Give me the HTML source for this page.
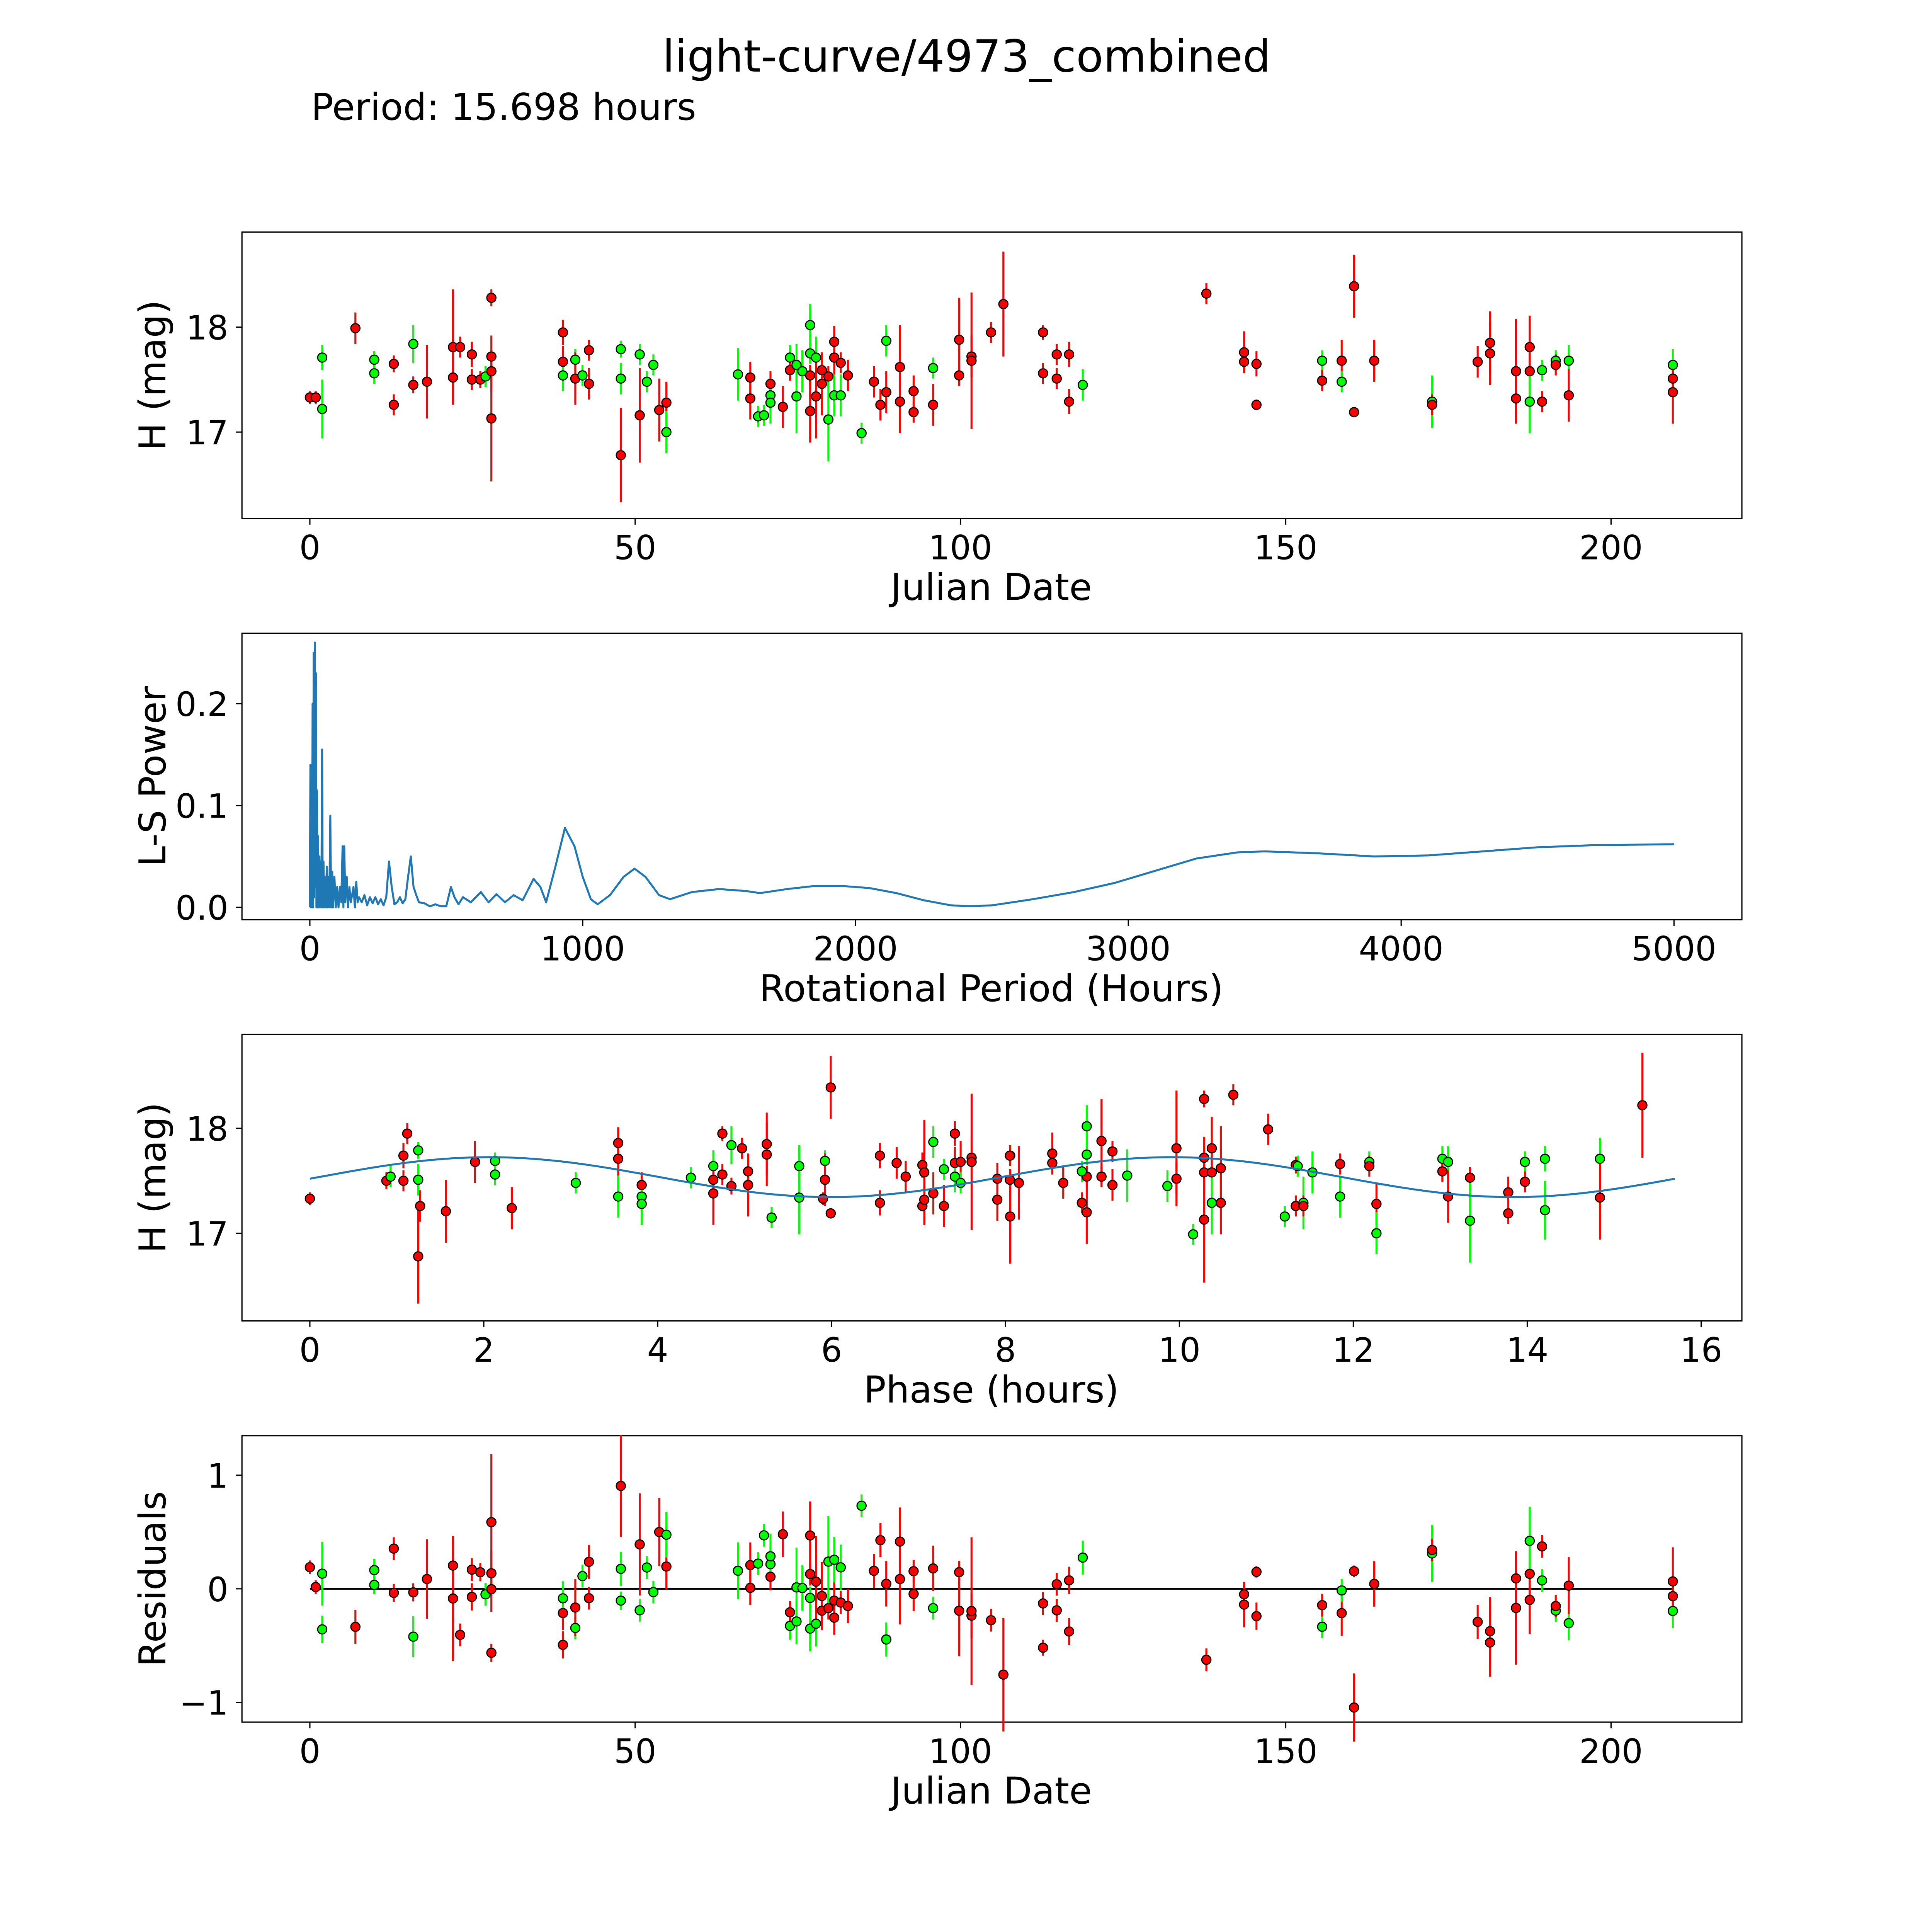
<!DOCTYPE html>
<html><head><meta charset="utf-8">
<style>
html,body{margin:0;padding:0;background:#fff;width:100%;height:100%;overflow:hidden;}
svg{display:block;width:100vw;height:100vh;font-family:"DejaVu Sans","Liberation Sans",sans-serif;}
</style></head>
<body>
<svg id="fig" xmlns="http://www.w3.org/2000/svg" viewBox="0 0 1565 1565" preserveAspectRatio="none">
<rect x="0" y="0" width="1565" height="1565" fill="#fff"/>
<text x="783" y="58" font-size="36" text-anchor="middle">light-curve/4973_combined</text>
<text x="252" y="97" font-size="30">Period: 15.698 hours</text>
<g id="g"></g>
</svg>
<script>
// ---- data ----
const dates = [0,0.9,1.9,1.9,7,9.9,9.9,12.9,12.9,15.9,15.9,18,22,22,23.1,24.9,24.9,26.2,27,27.9,27.9,27.9,27.9,38.9,38.9,38.9,40.8,40.8,41.9,42.9,42.9,47.8,47.8,47.8,50.7,50.7,51.8,52.8,53.7,54.8,54.8,65.8,67.7,67.7,68.9,69.8,70.8,70.8,70.8,72.7,73.8,73.8,74.8,74.8,75.7,76.9,76.9,76.9,76.9,77.8,77.8,78.7,78.7,79.7,79.7,80.6,80.6,80.6,81.6,81.6,82.7,84.8,86.7,87.7,88.6,88.6,90.7,90.7,92.8,92.8,95.8,95.8,99.8,99.8,101.7,101.7,104.7,106.6,112.7,112.7,114.8,114.8,116.7,116.7,118.8,137.8,143.6,143.6,145.5,145.5,155.6,155.6,158.6,158.6,160.5,160.5,163.6,172.5,172.5,179.5,181.4,181.4,185.4,185.4,187.5,187.5,187.5,189.4,189.4,191.5,191.5,193.5,193.5,209.5,209.5,209.5];
const mags = [17.33,17.33,17.71,17.22,17.99,17.69,17.56,17.65,17.26,17.84,17.45,17.48,17.81,17.52,17.81,17.74,17.5,17.5,17.53,18.28,17.72,17.58,17.13,17.95,17.67,17.54,17.69,17.51,17.54,17.78,17.46,17.79,17.51,16.78,17.74,17.16,17.48,17.64,17.21,17.28,17.0,17.55,17.52,17.32,17.15,17.16,17.46,17.35,17.28,17.24,17.71,17.59,17.64,17.34,17.58,18.02,17.75,17.54,17.2,17.71,17.34,17.59,17.46,17.53,17.12,17.86,17.71,17.35,17.66,17.35,17.54,16.99,17.48,17.26,17.87,17.38,17.62,17.29,17.39,17.19,17.61,17.26,17.88,17.54,17.72,17.68,17.95,18.22,17.95,17.56,17.74,17.51,17.74,17.29,17.45,18.32,17.76,17.67,17.65,17.26,17.68,17.49,17.68,17.48,18.39,17.19,17.68,17.29,17.26,17.67,17.85,17.75,17.58,17.32,17.81,17.58,17.29,17.59,17.29,17.68,17.64,17.68,17.35,17.64,17.51,17.38];
const errs = [0.06,0.06,0.12,0.28,0.15,0.08,0.1,0.08,0.1,0.18,0.08,0.35,0.55,0.15,0.1,0.12,0.1,0.08,0.1,0.08,0.2,0.2,0.6,0.12,0.15,0.15,0.1,0.25,0.1,0.1,0.15,0.08,0.15,0.45,0.1,0.45,0.1,0.1,0.3,0.2,0.2,0.25,0.15,0.2,0.1,0.1,0.12,0.15,0.2,0.2,0.12,0.1,0.2,0.35,0.2,0.2,0.1,0.1,0.3,0.2,0.4,0.15,0.3,0.1,0.4,0.15,0.3,0.2,0.1,0.2,0.15,0.1,0.15,0.15,0.15,0.2,0.4,0.3,0.15,0.1,0.1,0.2,0.4,0.1,0.2,0.65,0.1,0.5,0.07,0.1,0.1,0.1,0.12,0.12,0.15,0.1,0.2,0.1,0.12,0.05,0.1,0.1,0.2,0.1,0.3,0.05,0.2,0.25,0.1,0.15,0.3,0.3,0.5,0.2,0.3,0.25,0.3,0.1,0.1,0.1,0.1,0.15,0.25,0.15,0.15,0.3];
const colors = ("rrggrggrrg"+"rrrrrrrrgr"+"rrrrrggrgr"+"rggrgrggrr"+"ggrrggrggr"+"grgggggrrg"+"rrrrgrrgrg"+"rgrrgrrrrr"+"grrrrrrrrr"+"rrrrgrrrrr"+"grrgrrrgrr"+"rrrrrrggrg"+"rgrgrr").split("");
const periodHours = 15.698;
const modelParams = [17.535, 0.19, 0.1]; // mean, amplitude, phase offset (double-peaked)
const lsPeriods = [0,2,4,6,8,10,12,14,16,18,20,22,24,26,28,30,32,35,37,40,42,45,47,50,53,56,59,62,65,68,71,75,78,82,85,90,95,100,105,110,115,120,123,126,130,135,140,145,150,160,165,170,175,180,190,200,210,220,230,240,250,260,270,280,290,300,310,320,330,340,350,360,370,380,390,400,420,440,460,480,500,517,530,545,561,590,627,655,684,715,747,780,820,845,866,900,935,970,1000,1030,1055,1100,1150,1190,1230,1280,1320,1400,1500,1600,1650,1750,1850,1950,2050,2150,2250,2350,2420,2500,2650,2800,2950,3100,3250,3400,3500,3700,3900,4100,4300,4500,4700,5000];
const lsPower = [0,0.14,0,0.14,0,0.2,0,0.25,0.01,0.26,0.02,0.23,0,0.115,0,0.07,0,0.05,0,0.045,0,0.155,0,0.045,0,0.03,0,0.04,0,0.03,0,0.09,0,0.035,0,0.03,0,0.02,0,0.02,0.005,0.06,0,0.06,0.005,0.03,0,0.02,0.005,0.02,0,0.025,0.005,0.01,0.005,0.012,0.002,0.01,0.004,0.01,0.003,0.008,0.002,0.01,0.045,0.02,0.003,0.005,0.01,0.004,0.008,0.03,0.05,0.02,0.012,0.005,0.004,0.001,0.003,0.001,0.001,0.02,0.01,0.003,0.01,0.005,0.015,0.005,0.013,0.005,0.012,0.007,0.028,0.02,0.005,0.04,0.078,0.06,0.03,0.008,0.003,0.012,0.03,0.038,0.03,0.012,0.008,0.015,0.018,0.016,0.014,0.018,0.021,0.021,0.019,0.014,0.007,0.002,0.001,0.002,0.008,0.015,0.024,0.036,0.048,0.054,0.055,0.053,0.05,0.051,0.055,0.059,0.061,0.062];
const xTicksDate = [0,50,100,150,200];
const xTicksLS = [0,1000,2000,3000,4000,5000];
const xTicksPhase = [0,2,4,6,8,10,12,14,16];
const yTicksMag = [17,18];
const yTicksLS = [0,0.1,0.2];
const yTicksRes = [-1,0,1];

// ---- helpers ----
const NS="http://www.w3.org/2000/svg";
const G=document.getElementById('g');
function el(tag,attrs,parent){const e=document.createElementNS(NS,tag);for(const k in attrs)e.setAttribute(k,attrs[k]);(parent||G).appendChild(e);return e;}
function lin(d0,d1,p0,p1){return v=>p0+(v-d0)*(p1-p0)/(d1-d0);}
function model(p){return modelParams[0]+modelParams[1]*Math.sin(2*Math.PI*2*(p-modelParams[2])/periodHours);}
function phaseOf(d){return ((d*24)%periodHours+periodHours)%periodHours;}

function axes(name,top,xs,ys,xt,yt,xfmt,yfmt,xlabel,ylabel){
  const g=el('g',{});
  
  
  const f=el('rect',{x:196,y:top,width:1215,height:232,fill:'none',stroke:'#000','stroke-width':1},g);
  
  
  xt.forEach(t=>{const x=xs(t);
    el('line',{x1:x,x2:x,y1:top+232,y2:top+237,stroke:'#000','stroke-width':1},g);
    const tx=el('text',{x:x,y:top+265,'font-size':27,'text-anchor':'middle'},g);tx.textContent=xfmt(t);
    
    });
  yt.forEach(t=>{const y=ys(t);
    el('line',{x1:191,x2:196,y1:y,y2:y,stroke:'#000','stroke-width':1},g);
    const tx=el('text',{x:185,y:y+10,'font-size':27,'text-anchor':'end'},g);tx.textContent=yfmt(t);
    
    });
  const xl=el('text',{x:803,y:top+298,'font-size':30,'text-anchor':'middle'},g);xl.textContent=xlabel;
  
  
  const yl=el('text',{x:0,y:0,'font-size':30,'text-anchor':'middle',transform:`translate(134,${top+116}) rotate(-90)`},g);yl.textContent=ylabel;
  
  
  return g;
}
function pts(g,xv,yv,ev,xs,ys,sy,name){
  for(let i=0;i<xv.length;i++){
    const c=colors[i]==='g'?'#00ff00':'#ff0000';
    const x=xs(xv[i]),y=ys(yv[i]),e=Math.abs(sy*ev[i]);
    const l=el('line',{x1:x,x2:x,y1:y-e,y2:y+e,stroke:c,'stroke-width':1.6},g);
    
    
  }
  for(let i=0;i<xv.length;i++){
    const c=colors[i]==='g'?'#00ff00':'#ff0000';
    const m=el('circle',{cx:xs(xv[i]),cy:ys(yv[i]),r:3.7,fill:c,stroke:'#000','stroke-width':0.9},g);
    
    
  }
}
const intFmt=t=>String(t);
const minusFmt=t=>t<0?'\u2212'+Math.abs(t):String(t);

// Panel 1
const xD=lin(0,200,251,1305);
const yM1=lin(17,18,350,265);
const g1=axes('light-curve-panel',188,xD,yM1,xTicksDate,yTicksMag,intFmt,intFmt,'Julian Date','H (mag)');
pts(g1,dates,mags,errs,xD,yM1,85,'magnitude');

// Panel 2
const xL=lin(0,5000,251,1356);
const yL=lin(0,0.2,735,570);
const g2=axes('periodogram-panel',513,xL,yL,xTicksLS,yTicksLS,intFmt,t=>t.toFixed(1),'Rotational Period (Hours)','L-S Power');
const lp=el('path',{d:lsPeriods.map((p,i)=>(i?'L':'M')+xL(p).toFixed(2)+','+yL(lsPower[i]).toFixed(2)).join(''),fill:'none',stroke:'#1f77b4','stroke-width':1.6,'stroke-linejoin':'round'},g2);



// Panel 3
const xP=lin(0,16,251,1378);
const yM3=lin(17,18,999,914);
const g3=axes('phase-panel',838,xP,yM3,xTicksPhase,yTicksMag,intFmt,intFmt,'Phase (hours)','H (mag)');
const phases=dates.map(phaseOf);
pts(g3,phases,mags,errs,xP,yM3,85,'phased');
let md='';for(let k=0;k<=200;k++){const p=periodHours*k/200;md+=(k?'L':'M')+xP(p).toFixed(2)+','+yM3(model(p)).toFixed(2);}
const ml=el('path',{d:md,fill:'none',stroke:'#1f77b4','stroke-width':1.6},g3);



// Panel 4
const yR=lin(-1,1,1379,1195);
const g4=axes('residuals-panel',1163,xD,yR,xTicksDate,yTicksRes,intFmt,minusFmt,'Julian Date','Residuals');
const zl=el('line',{x1:xD(0),x2:xD(209.5),y1:yR(0),y2:yR(0),stroke:'#000','stroke-width':1.6},g4);


const resid=mags.map((m,i)=>model(phases[i])-m);
pts(g4,dates,resid,errs,xD,yR,92,'residual');
</script>
</body></html>
